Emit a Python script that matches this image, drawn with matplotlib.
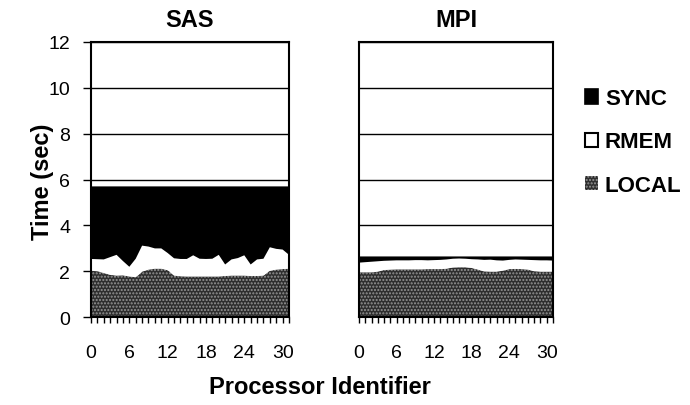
import matplotlib
matplotlib.use('Agg')
import matplotlib.pyplot as plt
import numpy as np
from matplotlib.patches import Patch

plt.rcParams['font.family'] = ['Liberation Sans', 'DejaVu Sans']
plt.rcParams['hatch.linewidth'] = 1.0

processors = list(range(32))
series_names = ['SYNC', 'RMEM', 'LOCAL']
xtick_labels = [0, 6, 12, 18, 24, 30]
ytick_labels = [0, 2, 4, 6, 8, 10, 12]

sas_local = [2.03, 2.00, 1.93, 1.85, 1.82, 1.83, 1.78, 1.75, 1.98, 2.08, 2.12, 2.12,
             2.05, 1.82, 1.79, 1.78, 1.78, 1.78, 1.78, 1.78, 1.78, 1.80, 1.82, 1.82,
             1.82, 1.80, 1.80, 1.82, 2.02, 2.08, 2.10, 2.12]
sas_rmem = [0.51, 0.53, 0.59, 0.77, 0.90, 0.62, 0.42, 0.80, 1.14, 1.00, 0.88, 0.88,
            0.75, 0.75, 0.75, 0.76, 0.92, 0.77, 0.76, 0.77, 0.94, 0.50, 0.70, 0.76,
            0.88, 0.50, 0.72, 0.73, 1.03, 0.90, 0.85, 0.60]
sas_sync = [3.16, 3.17, 3.18, 3.08, 2.98, 3.25, 3.50, 3.15, 2.58, 2.62, 2.70, 2.70,
            2.90, 3.13, 3.16, 3.16, 3.00, 3.15, 3.16, 3.15, 2.98, 3.40, 3.18, 3.12,
            3.00, 3.40, 3.18, 3.15, 2.65, 2.72, 2.75, 2.98]

mpi_local = [1.96, 1.96, 1.96, 1.98, 2.06, 2.08, 2.09, 2.09, 2.09, 2.09, 2.09, 2.10,
             2.10, 2.10, 2.12, 2.17, 2.18, 2.18, 2.15, 2.08, 1.99, 1.98, 1.98, 2.03,
             2.10, 2.11, 2.10, 2.08, 2.00, 1.98, 1.98, 1.98]
mpi_rmem = [0.42, 0.44, 0.46, 0.46, 0.40, 0.39, 0.39, 0.39, 0.39, 0.40, 0.40, 0.38,
            0.39, 0.40, 0.40, 0.38, 0.38, 0.37, 0.38, 0.44, 0.51, 0.53, 0.50, 0.44,
            0.40, 0.41, 0.41, 0.42, 0.49, 0.50, 0.50, 0.49]
mpi_sync = [0.27, 0.25, 0.23, 0.21, 0.19, 0.18, 0.17, 0.17, 0.17, 0.16, 0.16, 0.17,
            0.16, 0.15, 0.13, 0.10, 0.09, 0.10, 0.12, 0.13, 0.15, 0.14, 0.17, 0.18,
            0.15, 0.13, 0.14, 0.15, 0.16, 0.17, 0.17, 0.18]

LOCAL_FACE = '#2e2e2e'
LOCAL_HATCH = '#959595'

fig = plt.figure(figsize=(6.9, 4.06), dpi=100)
H = 406.0
W = 690.0
ax1 = fig.add_axes([91 / W, 87.7 / H, 198 / W, 275.6 / H])
ax2 = fig.add_axes([359 / W, 87.7 / H, 194 / W, 275.6 / H])

def draw(ax, local, rmem, sync, title, show_y):
    polys = ax.stackplot(processors, local, rmem, sync,
                         colors=[LOCAL_FACE, 'white', 'black'], zorder=2)
    polys[0].set_hatch('.....')
    polys[0].set_edgecolor(LOCAL_HATCH)
    polys[0].set_linewidth(0)
    polys[1].set_linewidth(0)
    polys[2].set_linewidth(0)
    ax.set_xlim(0, 31)
    ax.set_ylim(0, 12)
    ax.set_yticks(ytick_labels)
    ax.set_xticks(xtick_labels)
    ax.set_xticks(processors, minor=True)
    ax.set_xticklabels([str(v) for v in xtick_labels], fontsize=14)
    ax.set_axisbelow(True)
    ax.yaxis.grid(True, color='black', linewidth=1.0)
    ax.xaxis.grid(False)
    ax.tick_params(axis='x', which='both', length=4, width=1.0, pad=15,
                   direction='out', color='black')
    if show_y:
        ax.set_yticklabels([str(v) for v in ytick_labels], fontsize=14)
        ax.tick_params(axis='y', length=6, width=1.0, pad=9)
    else:
        ax.tick_params(axis='y', left=False, labelleft=False)
    for s in ax.spines.values():
        s.set_linewidth(1.5)
        s.set_color('black')
        s.set_zorder(5)
    ax.set_title(title, fontsize=17, fontweight='bold', pad=11)

draw(ax1, sas_local, sas_rmem, sas_sync, 'SAS', True)
draw(ax2, mpi_local, mpi_rmem, mpi_sync, 'MPI', False)

fig.text(43 / W, 1 - 182 / H, 'Time (sec)', rotation=90, ha='center', va='center',
         fontsize=17, fontweight='bold')
fig.text(320 / W, 1 - 388 / H, 'Processor Identifier', ha='center', va='center',
         fontsize=17, fontweight='bold')

handles = [
    Patch(facecolor='black', edgecolor='black', linewidth=1.2),
    Patch(facecolor='white', edgecolor='black', linewidth=1.5),
    Patch(facecolor=LOCAL_FACE, edgecolor=LOCAL_HATCH, hatch='.....', linewidth=0),
]
fig.legend(handles, series_names, loc='center left',
           bbox_to_anchor=(585 / W, 1 - 143 / H), frameon=False,
           prop={'weight': 'bold', 'size': 16}, handlelength=0.6, handleheight=0.6,
           handletextpad=0.3, labelspacing=1.0, borderpad=0, borderaxespad=0)

fig.savefig('out.png', dpi=100)
